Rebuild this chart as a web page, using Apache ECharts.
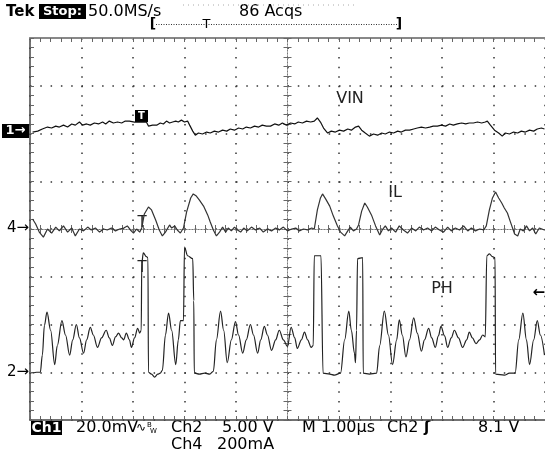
<!DOCTYPE html>
<html>
<head>
<meta charset="utf-8">
<script src="https://cdn.jsdelivr.net/npm/echarts@6/dist/echarts.min.js"></script>
<style>
  html, body { margin: 0; padding: 0; background: #fff; }
  #chart { width: 545px; height: 454px; }
</style>
</head>
<body>
<div id="chart"></div>
<script>
// time in µs (1 µs/div, trigger at 0), values in channel units
// Ch1 VIN, mV (AC, 20 mV/div)
var vin = [[-4.95,0],[-4.85,0.4],[-4.76,1.3],[-4.66,2.1],[-4.58,1.7],[-4.50,2.5],[-4.43,2.1],[-4.35,2.9],[-4.27,2.1],[-4.19,3.4],[-4.12,2.9],[-4.04,4.2],[-3.98,2.9],[-3.90,3.4],[-3.83,2.9],[-3.75,3.8],[-3.67,3.4],[-3.59,4.2],[-3.53,3.4],[-3.46,4.6],[-3.38,3.8],[-3.30,4.2],[-3.22,3.8],[-3.15,4.6],[-3.07,4.6],[-2.97,4.2],[-2.87,4.2],[-2.74,4.2],[-2.70,2.5],[-2.62,2.9],[-2.54,2.9],[-2.47,3.8],[-2.41,3.4],[-2.35,4.6],[-2.29,3.8],[-2.23,4.2],[-2.17,4.6],[-2.12,4.2],[-2.06,5.0],[-2.00,4.2],[-1.94,4.6],[-1.90,2.9],[-1.84,0.4],[-1.79,-1.3],[-1.73,-0.4],[-1.65,-0.8],[-1.57,0],[-1.50,-0.4],[-1.42,0.4],[-1.34,0],[-1.26,0.8],[-1.18,0.4],[-1.11,1.3],[-1.03,0.8],[-0.95,1.7],[-0.87,1.3],[-0.80,2.1],[-0.72,1.7],[-0.64,2.5],[-0.56,2.1],[-0.49,2.9],[-0.41,2.5],[-0.33,2.5],[-0.25,3.4],[-0.17,2.9],[-0.10,3.8],[-0.02,2.9],[0.06,3.8],[0.14,3.4],[0.21,4.2],[0.29,3.8],[0.37,4.6],[0.45,4.2],[0.52,4.6],[0.58,5.9],[0.64,4.2],[0.70,1.7],[0.78,-0.4],[0.85,0.4],[0.93,0],[1.01,0.8],[1.09,0.4],[1.17,1.3],[1.24,0.8],[1.32,2.1],[1.38,2.5],[1.44,0.8],[1.51,-0.4],[1.59,-1.7],[1.67,-0.8],[1.75,-1.3],[1.83,-0.4],[1.90,-0.8],[1.98,0],[2.06,-0.4],[2.14,0.4],[2.21,0],[2.29,0.8],[2.37,0.8],[2.45,1.3],[2.52,1.7],[2.60,2.1],[2.68,1.7],[2.76,2.1],[2.83,2.5],[2.91,2.5],[2.99,2.9],[3.07,2.5],[3.15,3.4],[3.22,2.9],[3.30,3.4],[3.38,3.8],[3.46,3.4],[3.53,3.8],[3.61,3.8],[3.69,4.2],[3.77,3.8],[3.84,4.2],[3.88,4.6],[3.94,2.9],[4.02,0.8],[4.10,-0.4],[4.17,-1.7],[4.23,-0.4],[4.31,-0.8],[4.39,0],[4.47,-0.4],[4.54,0.4],[4.62,0],[4.70,0.8],[4.78,0.4],[4.85,1.3],[4.93,1.7],[4.99,1.3]];

// Ch4 IL, mA (200 mA/div)
var il = [[-4.95,42],[-4.89,21],[-4.82,-13],[-4.74,-34],[-4.66,0],[-4.58,-17],[-4.50,8],[-4.43,-8],[-4.35,13],[-4.27,-13],[-4.19,4],[-4.12,-29],[-4.04,0],[-3.96,-8],[-3.88,8],[-3.81,-4],[-3.73,4],[-3.65,-13],[-3.57,0],[-3.50,-4],[-3.42,4],[-3.34,-8],[-3.26,0],[-3.18,4],[-3.11,13],[-3.05,-4],[-2.99,-17],[-2.93,0],[-2.87,-13],[-2.83,4],[-2.78,63],[-2.70,92],[-2.64,80],[-2.56,38],[-2.49,-4],[-2.43,-29],[-2.37,-13],[-2.29,17],[-2.25,4],[-2.19,13],[-2.14,-4],[-2.08,-17],[-2.02,4],[-1.96,71],[-1.88,130],[-1.83,147],[-1.77,138],[-1.71,121],[-1.63,96],[-1.55,59],[-1.50,29],[-1.44,-4],[-1.38,-29],[-1.32,-13],[-1.26,8],[-1.20,-13],[-1.15,4],[-1.09,-8],[-1.03,8],[-0.97,-4],[-0.91,-13],[-0.85,4],[-0.78,-8],[-0.70,8],[-0.62,-4],[-0.54,4],[-0.47,-13],[-0.39,0],[-0.31,-8],[-0.23,4],[-0.16,-4],[-0.08,8],[0,-8],[0.08,0],[0.16,4],[0.23,-8],[0.31,0],[0.39,-4],[0.47,4],[0.52,0],[0.58,80],[0.64,130],[0.68,147],[0.74,126],[0.82,96],[0.89,54],[0.97,13],[1.03,-13],[1.11,-29],[1.17,-8],[1.22,8],[1.28,-8],[1.34,0],[1.38,17],[1.44,75],[1.50,109],[1.55,92],[1.63,59],[1.71,13],[1.79,-25],[1.84,-4],[1.90,13],[1.96,-8],[2.02,4],[2.10,-13],[2.17,13],[2.25,-4],[2.33,-17],[2.41,4],[2.49,-8],[2.56,8],[2.64,-4],[2.72,4],[2.80,-8],[2.87,8],[2.95,-4],[3.03,-13],[3.11,8],[3.18,-8],[3.26,4],[3.34,-4],[3.42,13],[3.50,-8],[3.57,4],[3.65,-8],[3.73,0],[3.81,-4],[3.86,13],[3.92,80],[3.98,130],[4.04,155],[4.10,130],[4.16,109],[4.21,88],[4.27,67],[4.33,29],[4.41,-21],[4.47,-29],[4.52,0],[4.58,-8],[4.64,13],[4.70,-8],[4.76,4],[4.82,-21],[4.89,4],[4.99,-4]];

// Ch2 PH, V (5 V/div)
var ph = [[-4.95,-0.1],[-4.87,0],[-4.80,0],[-4.76,1.8],[-4.72,4.9],[-4.67,6.3],[-4.60,4.4],[-4.52,0.8],[-4.47,2.8],[-4.38,5.4],[-4.31,3.9],[-4.23,1.8],[-4.17,3.4],[-4.10,5.0],[-4.04,3.6],[-3.96,2.0],[-3.90,3.4],[-3.83,4.7],[-3.77,3.9],[-3.69,2.6],[-3.61,3.6],[-3.52,4.4],[-3.46,3.6],[-3.40,2.8],[-3.34,3.7],[-3.28,4.1],[-3.22,3.6],[-3.18,3.4],[-3.13,4.1],[-3.07,3.4],[-3.03,2.6],[-2.97,3.6],[-2.91,4.6],[-2.87,4.1],[-2.84,4.4],[-2.83,11.4],[-2.80,12.5],[-2.74,12.1],[-2.71,12.0],[-2.70,0],[-2.64,-0.2],[-2.58,-0.5],[-2.52,-0.2],[-2.47,-0.1],[-2.43,0.2],[-2.37,3.9],[-2.31,6.2],[-2.25,4.4],[-2.17,0.8],[-2.12,3.4],[-2.08,5.4],[-2.02,5.4],[-2.00,13.1],[-1.94,12.2],[-1.84,11.9],[-1.82,7.5],[-1.81,-0.1],[-1.71,-0.2],[-1.61,-0.1],[-1.51,-0.2],[-1.44,0.1],[-1.38,3.4],[-1.30,6.4],[-1.24,4.4],[-1.17,1.0],[-1.09,3.4],[-1.01,5.3],[-0.95,3.9],[-0.87,2.0],[-0.80,3.4],[-0.72,5.0],[-0.66,3.9],[-0.58,2.0],[-0.52,3.4],[-0.45,4.8],[-0.39,3.9],[-0.31,2.3],[-0.23,3.4],[-0.16,4.4],[-0.08,3.4],[0,2.7],[0.07,4.7],[0.14,3.6],[0.19,2.5],[0.27,3.4],[0.33,4.2],[0.39,3.4],[0.46,2.6],[0.50,2.8],[0.52,12.2],[0.65,12.2],[0.69,-0.1],[0.82,-0.2],[0.91,-0.3],[1.03,-0.1],[1.11,3.4],[1.19,6.4],[1.24,4.4],[1.30,2.0],[1.32,1.0],[1.34,4.4],[1.36,11.9],[1.46,12.0],[1.47,-0.1],[1.59,-0.2],[1.73,-0.1],[1.79,2.8],[1.88,6.4],[1.96,3.9],[2.04,0.8],[2.12,3.4],[2.17,5.5],[2.23,3.9],[2.30,1.6],[2.37,3.4],[2.45,5.7],[2.52,4.1],[2.60,2.2],[2.66,3.4],[2.74,4.6],[2.80,3.6],[2.87,2.6],[2.93,3.8],[2.98,4.8],[3.05,3.8],[3.11,2.6],[3.18,3.6],[3.24,4.4],[3.32,3.6],[3.40,2.6],[3.48,3.4],[3.53,4.2],[3.59,3.6],[3.66,3.0],[3.73,3.4],[3.79,3.9],[3.84,3.7],[3.87,12.2],[3.92,12.4],[3.98,12.1],[4.03,12.0],[4.04,-0.2],[4.21,-0.3],[4.31,-0.1],[4.42,-0.1],[4.49,3.4],[4.57,6.2],[4.64,3.4],[4.70,0.8],[4.78,3.4],[4.85,5.4],[4.91,3.9],[4.99,1.8]];

// channel setup: ground position (divisions from centre) and units per division
var ch1 = {pos: 2.03, perDiv: 20};
var ch4 = {pos: 0, perDiv: 200};
var ch2 = {pos: -3, perDiv: 5};

function toDiv(samples, ch) {
  return samples.map(function (p) { return [p[0], ch.pos + p[1] / ch.perDiv]; });
}

var FONT = '"DejaVu Sans", sans-serif';

function frameAxis(pos, extra) {
  var a = {
    type: 'value', position: pos, interval: 1,
    axisLine: {onZero: false, lineStyle: {color: '#444', width: 1.5}},
    axisTick: {show: true, inside: true, length: 4, lineStyle: {color: '#666'}},
    minorTick: {show: true, splitNumber: 5, length: 4, lineStyle: {color: '#666'}},
    axisLabel: {show: false},
    splitLine: {show: false}
  };
  return Object.assign(a, extra);
}
function centreAxis(pos, inside, extra) {
  var a = {
    type: 'value', position: pos, interval: 1,
    axisLine: {onZero: true, onZeroAxisIndex: 0, lineStyle: {color: '#777', width: 1, type: [1, 2]}},
    axisTick: {show: true, inside: inside, length: 4, lineStyle: {color: '#666'}},
    minorTick: {show: true, splitNumber: 5, length: 4, lineStyle: {color: '#666'}},
    axisLabel: {show: false},
    splitLine: {show: false}
  };
  return Object.assign(a, extra);
}

var chart = echarts.init(document.getElementById('chart'), null, {renderer: 'canvas'});

var option = {
  backgroundColor: '#fff',
  animation: false,
  grid: {left: 30, top: 38, width: 515, height: 382, outerBoundsMode: 'none', containLabel: false},
  xAxis: [
    frameAxis('bottom', {min: -5, max: 5,
      splitLine: {show: true, lineStyle: {color: '#333', width: 1.5, type: [1.5, 8.05]}}}),
    frameAxis('top', {min: -5, max: 5, axisLine: {onZero: false, lineStyle: {color: '#888', width: 2}}}),
    centreAxis('bottom', true, {min: -5, max: 5}),
    centreAxis('bottom', false, {min: -5, max: 5})
  ],
  yAxis: [
    frameAxis('left', {min: -4, max: 4,
      splitLine: {show: true, lineStyle: {color: '#333', width: 1.5, type: [1.5, 8.8]}}}),
    centreAxis('left', true, {min: -4, max: 4}),
    centreAxis('left', false, {min: -4, max: 4})
  ],
  series: [
    {name: 'VIN', type: 'line', data: toDiv(vin, ch1), showSymbol: false, silent: true,
      lineStyle: {color: '#111', width: 1.2}},
    {name: 'IL', type: 'line', data: toDiv(il, ch4), showSymbol: false, silent: true,
      lineStyle: {color: '#333', width: 1.2}},
    {name: 'PH', type: 'line', data: toDiv(ph, ch2), showSymbol: false, silent: true,
      smooth: 0.35, smoothMonotone: 'x',
      lineStyle: {color: '#222', width: 1.2}}
  ],
  graphic: [
    // header
    {type: 'text', x: 6, y: 12, style: {text: 'Tek', font: 'bold 15px ' + FONT, fill: '#000', verticalAlign: 'middle'}},
    {type: 'rect', shape: {x: 39, y: 4, width: 47, height: 15}, style: {fill: '#000'}},
    {type: 'text', x: 62.5, y: 12, style: {text: 'Stop:', font: 'bold 13px ' + FONT, fill: '#fff', align: 'center', verticalAlign: 'middle'}},
    {type: 'text', x: 88, y: 12, style: {text: '50.0MS/s', font: '16px ' + FONT, fill: '#000', verticalAlign: 'middle'}},
    {type: 'text', x: 239, y: 12, style: {text: '86 Acqs', font: '16px ' + FONT, fill: '#000', verticalAlign: 'middle'}},
    {type: 'line', shape: {x1: 183, y1: 5, x2: 358, y2: 5}, style: {stroke: '#aaa', lineWidth: 1, lineDash: [1, 4]}},
    // record bracket
    {type: 'line', shape: {x1: 156, y1: 24.5, x2: 397, y2: 24.5}, style: {stroke: '#333', lineWidth: 1, lineDash: [1, 1.5]}},
    {type: 'text', x: 153, y: 24.5, style: {text: '[', font: 'bold 14px ' + FONT, fill: '#000', align: 'center', verticalAlign: 'middle'}},
    {type: 'text', x: 399, y: 24.5, style: {text: ']', font: 'bold 14px ' + FONT, fill: '#000', align: 'center', verticalAlign: 'middle'}},
    {type: 'text', x: 206.5, y: 24.5, style: {text: 'T', font: '13px ' + FONT, fill: '#000', align: 'center', verticalAlign: 'middle'}},
    // channel ground markers
    {type: 'rect', shape: {x: 2, y: 124, width: 27, height: 14}, style: {fill: '#000'}},
    {type: 'text', x: 15.5, y: 131, style: {text: '1→', font: 'bold 13px ' + FONT, fill: '#fff', align: 'center', verticalAlign: 'middle'}},
    {type: 'text', x: 18, y: 228, style: {text: '4→', font: '15px ' + FONT, fill: '#000', align: 'center', verticalAlign: 'middle'}},
    {type: 'text', x: 18, y: 372, style: {text: '2→', font: '15px ' + FONT, fill: '#000', align: 'center', verticalAlign: 'middle'}},
    {type: 'text', x: 545, y: 293, style: {text: '←', font: 'bold 15px ' + FONT, fill: '#000', align: 'right', verticalAlign: 'middle'}},
    // trigger position marks on the traces
    {type: 'rect', shape: {x: 135, y: 110, width: 13, height: 12}, style: {fill: '#000'}},
    {type: 'text', x: 141.5, y: 116, style: {text: 'T', font: 'bold 10px ' + FONT, fill: '#fff', align: 'center', verticalAlign: 'middle'}},
    {type: 'text', x: 142, y: 223, style: {text: 'T', font: '15px ' + FONT, fill: '#222', align: 'center', verticalAlign: 'middle'}},
    {type: 'text', x: 142, y: 268, style: {text: 'T', font: '15px ' + FONT, fill: '#222', align: 'center', verticalAlign: 'middle'}},
    // trace names
    {type: 'text', x: 350, y: 99, style: {text: 'VIN', font: '16px ' + FONT, fill: '#222', align: 'center', verticalAlign: 'middle', backgroundColor: '#fff', padding: [2, 4]}},
    {type: 'text', x: 395, y: 193, style: {text: 'IL', font: '16px ' + FONT, fill: '#222', align: 'center', verticalAlign: 'middle', backgroundColor: '#fff', padding: [2, 4]}},
    {type: 'text', x: 442, y: 289, style: {text: 'PH', font: '16px ' + FONT, fill: '#222', align: 'center', verticalAlign: 'middle', backgroundColor: '#fff', padding: [2, 4]}},
    // footer readouts
    {type: 'rect', shape: {x: 31, y: 421, width: 31, height: 14}, style: {fill: '#000'}},
    {type: 'text', x: 46.5, y: 428, style: {text: 'Ch1', font: 'bold 14px ' + FONT, fill: '#fff', align: 'center', verticalAlign: 'middle'}},
    {type: 'text', x: 76, y: 428, style: {text: '20.0mV', font: '16px ' + FONT, fill: '#000', verticalAlign: 'middle'}},
    {type: 'text', x: 136, y: 428, style: {text: '∿', font: '12px ' + FONT, fill: '#000', verticalAlign: 'middle'}},
    {type: 'text', x: 147, y: 425, style: {text: 'B', font: '7px ' + FONT, fill: '#000', verticalAlign: 'middle'}},
    {type: 'text', x: 150, y: 431, style: {text: 'W', font: '7px ' + FONT, fill: '#000', verticalAlign: 'middle'}},
    {type: 'text', x: 171, y: 428, style: {text: 'Ch2', font: '16px ' + FONT, fill: '#000', verticalAlign: 'middle'}},
    {type: 'text', x: 222, y: 428, style: {text: '5.00 V', font: '16px ' + FONT, fill: '#000', verticalAlign: 'middle'}},
    {type: 'text', x: 302, y: 428, style: {text: 'M 1.00µs', font: '16px ' + FONT, fill: '#000', verticalAlign: 'middle'}},
    {type: 'text', x: 387, y: 428, style: {text: 'Ch2', font: '16px ' + FONT, fill: '#000', verticalAlign: 'middle'}},
    {type: 'text', x: 427, y: 428, style: {text: 'ʃ', font: 'bold 15px ' + FONT, fill: '#000', align: 'center', verticalAlign: 'middle'}},
    {type: 'text', x: 478, y: 428, style: {text: '8.1 V', font: '16px ' + FONT, fill: '#000', verticalAlign: 'middle'}},
    {type: 'text', x: 171, y: 445, style: {text: 'Ch4', font: '16px ' + FONT, fill: '#000', verticalAlign: 'middle'}},
    {type: 'text', x: 217, y: 445, style: {text: '200mA', font: '16px ' + FONT, fill: '#000', verticalAlign: 'middle'}}
  ]
};

chart.setOption(option);
</script>
</body>
</html>
